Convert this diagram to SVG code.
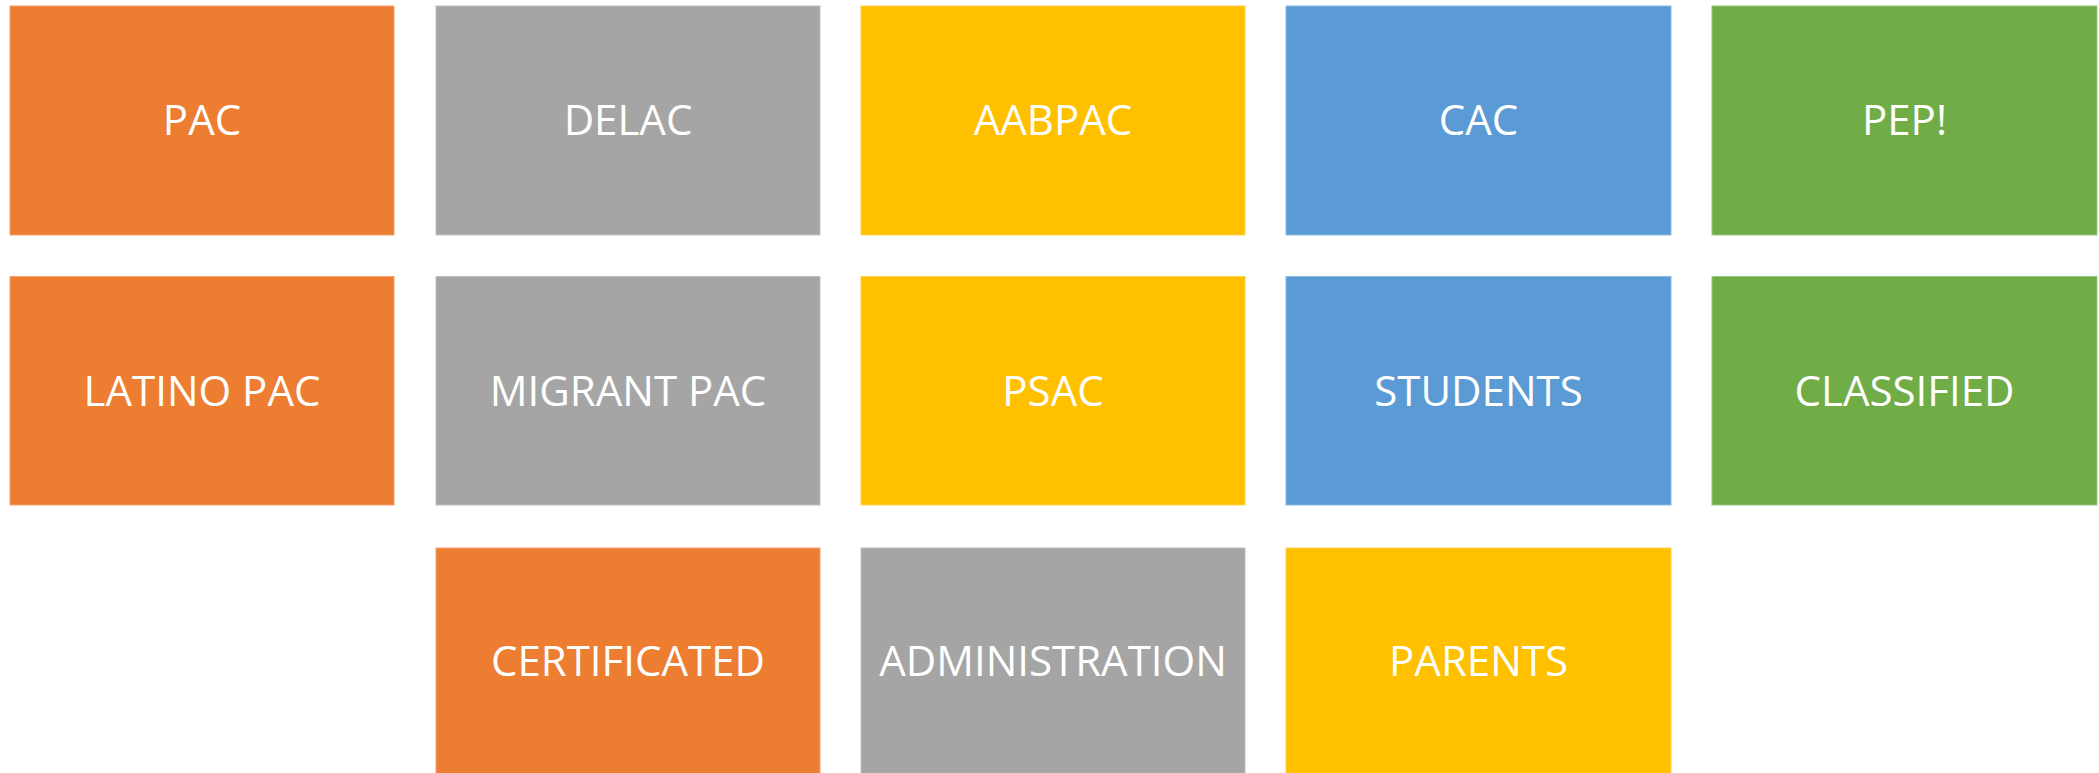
<svg xmlns="http://www.w3.org/2000/svg" width="2099" height="773" viewBox="0 0 2099 773">
<style>
rect{stroke-width:1}
.o{fill:#ED7D31;stroke:#F2A070}
.g{fill:#A5A5A5;stroke:#C0C0C0}
.y{fill:#FFC000;stroke:#FFD24D}
.b{fill:#5B9BD5;stroke:#8CBAE3}
.n{fill:#70AD47;stroke:#9BC87E}
text{font-family:"Open Sans","Noto Sans",sans-serif;font-size:42px;fill:#FFFFFF;text-anchor:middle}
</style>
<rect width="2099" height="773" fill="#FFFFFF"/>
<g id="pac"><rect class="o" x="10" y="6" width="384" height="229"/><text x="202" y="135">PAC</text></g>
<g id="delac"><rect class="g" x="436" y="6" width="384" height="229"/><text x="628" y="135">DELAC</text></g>
<g id="aabpac"><rect class="y" x="861" y="6" width="384" height="229"/><text x="1053" y="135">AABPAC</text></g>
<g id="cac"><rect class="b" x="1286" y="6" width="385" height="229"/><text x="1478.5" y="135">CAC</text></g>
<g id="pep"><rect class="n" x="1712" y="6" width="385" height="229"/><text x="1904.5" y="135">PEP!</text></g>
<g id="latino-pac"><rect class="o" x="10" y="276.5" width="384" height="228.5"/><text x="202" y="405.5">LATINO PAC</text></g>
<g id="migrant-pac"><rect class="g" x="436" y="276.5" width="384" height="228.5"/><text x="628" y="405.5">MIGRANT PAC</text></g>
<g id="psac"><rect class="y" x="861" y="276.5" width="384" height="228.5"/><text x="1053" y="405.5">PSAC</text></g>
<g id="students"><rect class="b" x="1286" y="276.5" width="385" height="228.5"/><text x="1478.5" y="405.5">STUDENTS</text></g>
<g id="classified"><rect class="n" x="1712" y="276.5" width="385" height="228.5"/><text x="1904.5" y="405.5">CLASSIFIED</text></g>
<g id="certificated"><rect class="o" x="436" y="548" width="384" height="230"/><text x="628" y="676">CERTIFICATED</text></g>
<g id="administration"><rect class="g" x="861" y="548" width="384" height="230"/><text x="1053" y="676">ADMINISTRATION</text></g>
<g id="parents"><rect class="y" x="1286" y="548" width="385" height="230"/><text x="1478.5" y="676">PARENTS</text></g>
<g id="connectors"/>
</svg>
